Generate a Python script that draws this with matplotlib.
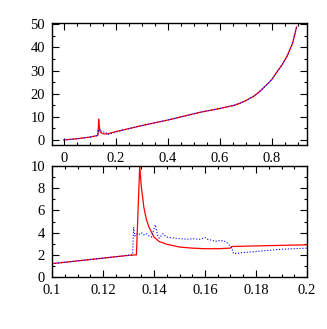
import numpy as np
import matplotlib.pyplot as plt
from matplotlib.ticker import MultipleLocator

# full profile (top panel)
x_top = [0.0, 0.05, 0.1, 0.13, 0.1316, 0.1335, 0.1344, 0.136, 0.138, 0.14, 0.145, 0.15,
         0.16, 0.17, 0.2, 0.27, 0.3, 0.4, 0.5, 0.53, 0.6, 0.656, 0.68, 0.7, 0.73, 0.75,
         0.785, 0.8, 0.82, 0.84, 0.86, 0.88, 0.895]
red_top = [0.0, 0.5, 1.2, 1.9, 2.0, 6.0, 9.0, 6.5, 4.8, 3.6, 3.0, 2.7,
           2.55, 2.7, 3.6, 5.4, 6.2, 8.6, 11.3, 12.1, 13.6, 15.0, 16.0, 17.0, 18.9, 20.6,
           24.4, 26.2, 29.5, 32.6, 36.6, 42.0, 48.9]
blue_top = [0.0, 0.5, 1.2, 1.9, 4.5, 3.9, 3.8, 4.0, 3.8, 4.7, 3.6, 3.5,
            3.4, 2.3, 3.4, 5.4, 6.2, 8.6, 11.3, 12.1, 13.6, 15.0, 16.0, 17.0, 18.9, 20.6,
            24.4, 26.2, 29.5, 32.6, 36.6, 42.0, 48.9]

# zoom on the shock (bottom panel)
x_red = [0.1, 0.11, 0.12, 0.13, 0.1331, 0.1344, 0.135, 0.136, 0.137, 0.138, 0.14, 0.142,
         0.145, 0.15, 0.155, 0.16, 0.165, 0.17, 0.1705, 0.18, 0.19, 0.2]
y_red = [1.2, 1.45, 1.7, 1.95, 2.0, 10.0, 8.2, 6.3, 5.2, 4.5, 3.6, 3.2,
         2.95, 2.7, 2.6, 2.55, 2.55, 2.6, 2.75, 2.8, 2.85, 2.9]
x_blue = [0.1, 0.11, 0.12, 0.13, 0.1316, 0.132, 0.1325, 0.133, 0.134, 0.135, 0.136, 0.137,
          0.138, 0.139, 0.1405, 0.1415, 0.142, 0.1435, 0.145, 0.148, 0.15, 0.153, 0.155,
          0.158, 0.16, 0.161, 0.163, 0.164, 0.166, 0.168, 0.169, 0.1705, 0.1712, 0.175,
          0.18, 0.185, 0.19, 0.2]
y_blue = [1.2, 1.45, 1.7, 1.95, 2.0, 4.5, 3.7, 3.9, 3.8, 4.0, 3.8, 3.9,
          3.7, 3.6, 4.7, 3.7, 3.5, 3.9, 3.6, 3.5, 3.45, 3.4, 3.45,
          3.4, 3.55, 3.4, 3.3, 3.2, 3.3, 3.2, 3.0, 2.6, 2.1, 2.2,
          2.3, 2.4, 2.5, 2.6]

plt.rcParams['font.family'] = ['Liberation Serif', 'DejaVu Serif']
plt.rcParams['font.size'] = 10.5

fig = plt.figure(figsize=(3.27, 3.29), dpi=100)
ax1 = fig.add_axes([52 / 327, 1 - 145 / 329, 255 / 327, 122 / 329])
ax2 = fig.add_axes([52 / 327, 1 - 277 / 329, 255 / 327, 111 / 329])

ax1.plot(x_top, red_top, color='red', lw=0.9)
ax1.plot(x_top, blue_top, color='blue', lw=0.8, ls=':')
ax1.set_xlim(-0.045, 0.935)
ax1.set_ylim(-2.2, 50.6)
ax1.xaxis.set_major_locator(MultipleLocator(0.2))
ax1.xaxis.set_minor_locator(MultipleLocator(0.05))
ax1.yaxis.set_major_locator(MultipleLocator(10))
ax1.yaxis.set_minor_locator(MultipleLocator(5))
ax1.set_xticks([0, 0.2, 0.4, 0.6, 0.8])
ax1.set_xticklabels(['0', '0.2', '0.4', '0.6', '0.8'])

ax2.plot(x_red, y_red, color='red', lw=0.9)
ax2.plot(x_blue, y_blue, color='blue', lw=0.8, ls=':')
ax2.set_xlim(0.1, 0.2)
ax2.set_ylim(0, 10)
ax2.xaxis.set_major_locator(MultipleLocator(0.02))
ax2.xaxis.set_minor_locator(MultipleLocator(0.005))
ax2.yaxis.set_major_locator(MultipleLocator(2))
ax2.yaxis.set_minor_locator(MultipleLocator(1))
ax2.set_xticks([0.1, 0.12, 0.14, 0.16, 0.18, 0.2])
ax2.set_xticklabels(['0.1', '0.12', '0.14', '0.16', '0.18', '0.2'])

for ax in (ax1, ax2):
    ax.tick_params(which='both', direction='in', top=True, right=True, width=0.8)
    ax.tick_params(which='major', length=5)
    ax.tick_params(which='minor', length=2.5)
    ax.tick_params(axis='x', which='major', pad=5)
    ax.tick_params(axis='y', which='major', pad=5)
    for s in ax.spines.values():
        s.set_linewidth(1.0)

fig.savefig('out.png', dpi=100)
